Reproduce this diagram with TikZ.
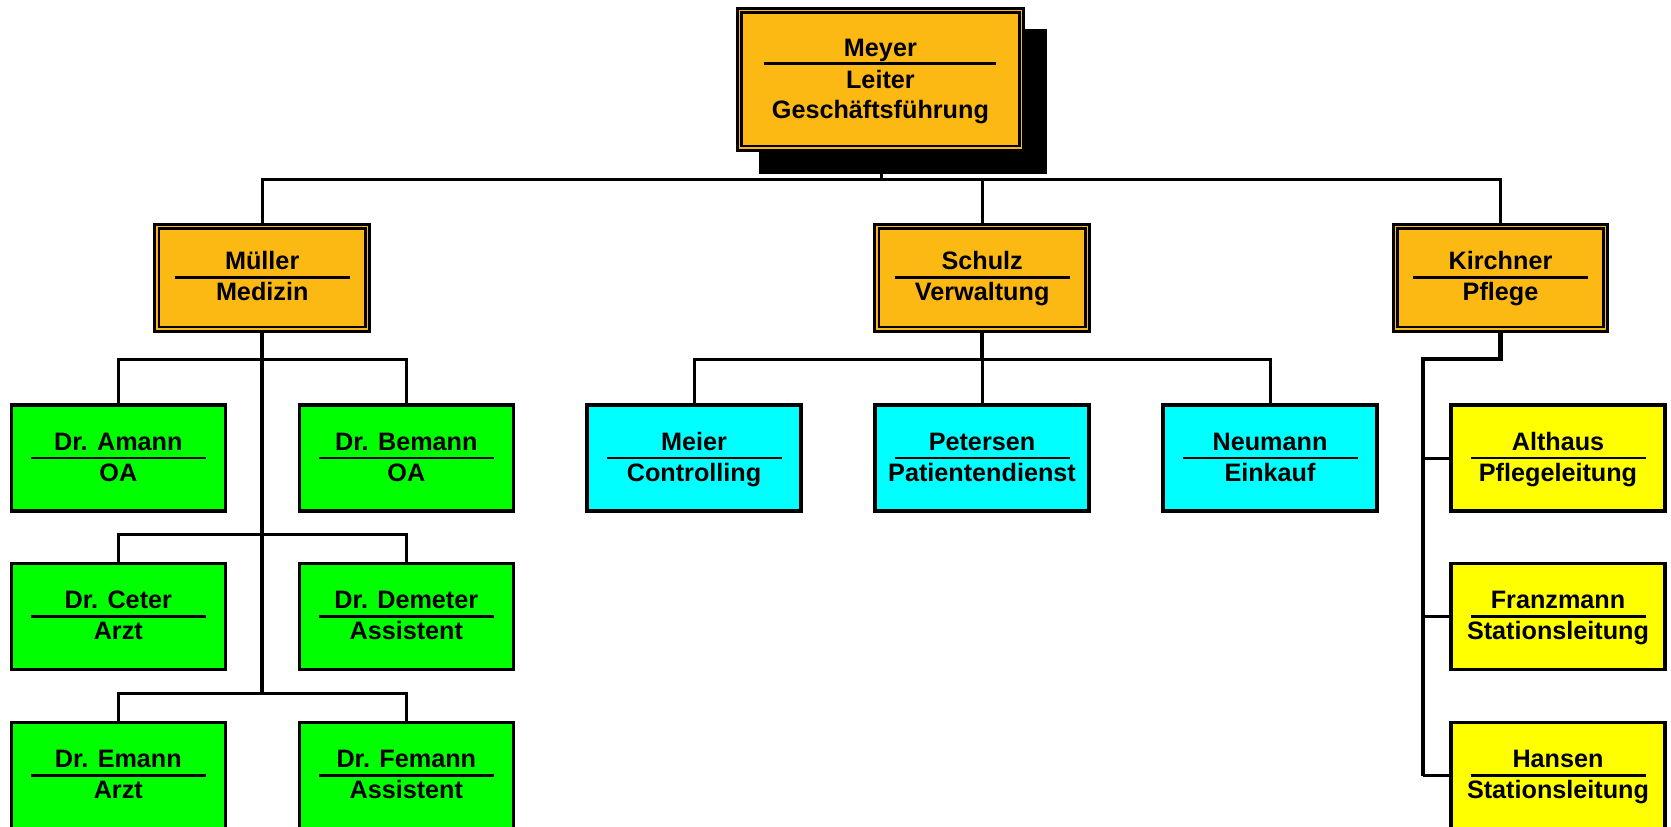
\documentclass[tikz,border=0pt]{standalone}
\usepackage{fontspec}
\setmainfont{Liberation Sans}
\usetikzlibrary{backgrounds}
\definecolor{orgorange}{RGB}{253,185,19}
\definecolor{orggreen}{RGB}{0,255,0}
\definecolor{orgcyan}{RGB}{0,255,255}
\definecolor{orgyellow}{RGB}{255,255,0}
\newcommand{\mkbox}[6]{%
  \node[#4] (#1) at (#2,#3) {};
  \node[txt, anchor=base] (#1-l1) at ([yshift=8pt]#1.center) {#5};
  \node[txt, anchor=base] (#1-l2) at ([yshift=-23pt]#1.center) {#6};
  \draw[sepline] ([xshift=-87.5pt]#1.center) -- ([xshift=87.5pt]#1.center);
}
\newcommand{\innerframe}[1]{%
  \draw[innerline] ([xshift=4.2pt,yshift=-4.2pt]#1.north west) rectangle ([xshift=-4.2pt,yshift=4.2pt]#1.south east);
}
\begin{document}
\begin{tikzpicture}[x=1pt,y=-1pt,
  txt/.style={font=\fontsize{25.2}{30}\selectfont\bfseries, inner sep=0pt, outer sep=0pt, text=black},
  leafbox/.style={draw=black, line width=3.3pt, minimum width=214.2pt, minimum height=106.2pt, inner sep=0pt, outer sep=0pt},
  headbox/.style={draw=black, fill=orgorange, line width=3pt, minimum width=214.7pt, minimum height=107pt, inner sep=0pt, outer sep=0pt},
  innerline/.style={line width=2.5pt},
  sepline/.style={line width=2.6pt},
  conn/.style={line width=3pt},
  trunk/.style={line width=4.2pt}]
\useasboundingbox (0,0) rectangle (1671,827);
\clip (0,0) rectangle (1671,827);

% shadow of top box
\fill[black] (759,29) rectangle (1047,173.5);

% top box
\node[headbox, minimum width=286.3pt, minimum height=142pt] (meyer) at (880.4,79.2) {};
\innerframe{meyer}
\node[txt, anchor=base] (meyer-l1) at ([yshift=22.5pt]meyer.center) {Meyer};
\node[txt, anchor=base] (meyer-l2) at ([yshift=-8.8pt]meyer.center) {Leiter};
\node[txt, anchor=base] (meyer-l3) at ([yshift=-39.1pt]meyer.center) {Geschäftsführung};
\draw[sepline] ([xshift=-116pt,yshift=15.9pt]meyer.center) -- ([xshift=116pt,yshift=15.9pt]meyer.center);

% second level
\mkbox{mueller}{262.2}{277.7}{headbox}{Müller}{Medizin}
\innerframe{mueller}
\mkbox{schulz}{982.2}{277.7}{headbox}{Schulz}{Verwaltung}
\innerframe{schulz}
\mkbox{kirchner}{1500.5}{277.7}{headbox}{Kirchner}{Pflege}
\innerframe{kirchner}

% medicine
\mkbox{amann}{118.3}{458}{leafbox, fill=orggreen}{Dr. Amann}{OA}
\mkbox{bemann}{406.3}{458}{leafbox, fill=orggreen}{Dr. Bemann}{OA}
\mkbox{ceter}{118.3}{616.5}{leafbox, fill=orggreen}{Dr. Ceter}{Arzt}
\mkbox{demeter}{406.3}{616.5}{leafbox, fill=orggreen}{Dr. Demeter}{Assistent}
\mkbox{emann}{118.3}{775.5}{leafbox, fill=orggreen}{Dr. Emann}{Arzt}
\mkbox{femann}{406.3}{775.5}{leafbox, fill=orggreen}{Dr. Femann}{Assistent}

% administration
\mkbox{meier}{694}{458}{leafbox, fill=orgcyan}{Meier}{Controlling}
\mkbox{petersen}{982}{458}{leafbox, fill=orgcyan}{Petersen}{Patientendienst}
\mkbox{neumann}{1270}{458}{leafbox, fill=orgcyan}{Neumann}{Einkauf}

% nursing
\mkbox{althaus}{1558}{458}{leafbox, fill=orgyellow}{Althaus}{Pflegeleitung}
\mkbox{franzmann}{1558}{616.5}{leafbox, fill=orgyellow}{Franzmann}{Stationsleitung}
\mkbox{hansen}{1558}{775.5}{leafbox, fill=orgyellow}{Hansen}{Stationsleitung}

\begin{pgfonlayer}{background}
  % top level bus
  \coordinate (topbus) at (881.7,179);
  \draw[conn] (topbus |- meyer.south) -- (topbus);
  \draw[conn] (mueller.north) |- (topbus) -| (kirchner.north);
  \draw[conn] (topbus -| schulz.north) -- (schulz.north);

  % medicine
  \coordinate (mb1) at (262.2,359);
  \coordinate (mb2) at (262.2,534.5);
  \coordinate (mb3) at (262.2,693.5);
  \draw[trunk] (mueller.south) -- (mb3);
  \draw[conn] (amann.north) |- (mb1) -| (bemann.north);
  \draw[conn] (ceter.north) |- (mb2) -| (demeter.north);
  \draw[conn] (emann.north) |- (mb3) -| (femann.north);

  % administration
  \coordinate (sb) at (982.2,359);
  \draw[trunk] (schulz.south) -- (sb);
  \draw[conn] (meier.north) |- (sb) -| (neumann.north);
  \draw[conn] (sb) -- (sb |- petersen.north);

  % nursing
  \coordinate (kt) at (1423,359);
  \draw[trunk] (kirchner.south) |- (kt) -- (kt |- hansen.west);
  \draw[conn] (kt |- althaus.west) -- (althaus.west);
  \draw[conn] (kt |- franzmann.west) -- (franzmann.west);
  \draw[conn] (kt |- hansen.west) -- (hansen.west);
\end{pgfonlayer}
\end{tikzpicture}
\end{document}
